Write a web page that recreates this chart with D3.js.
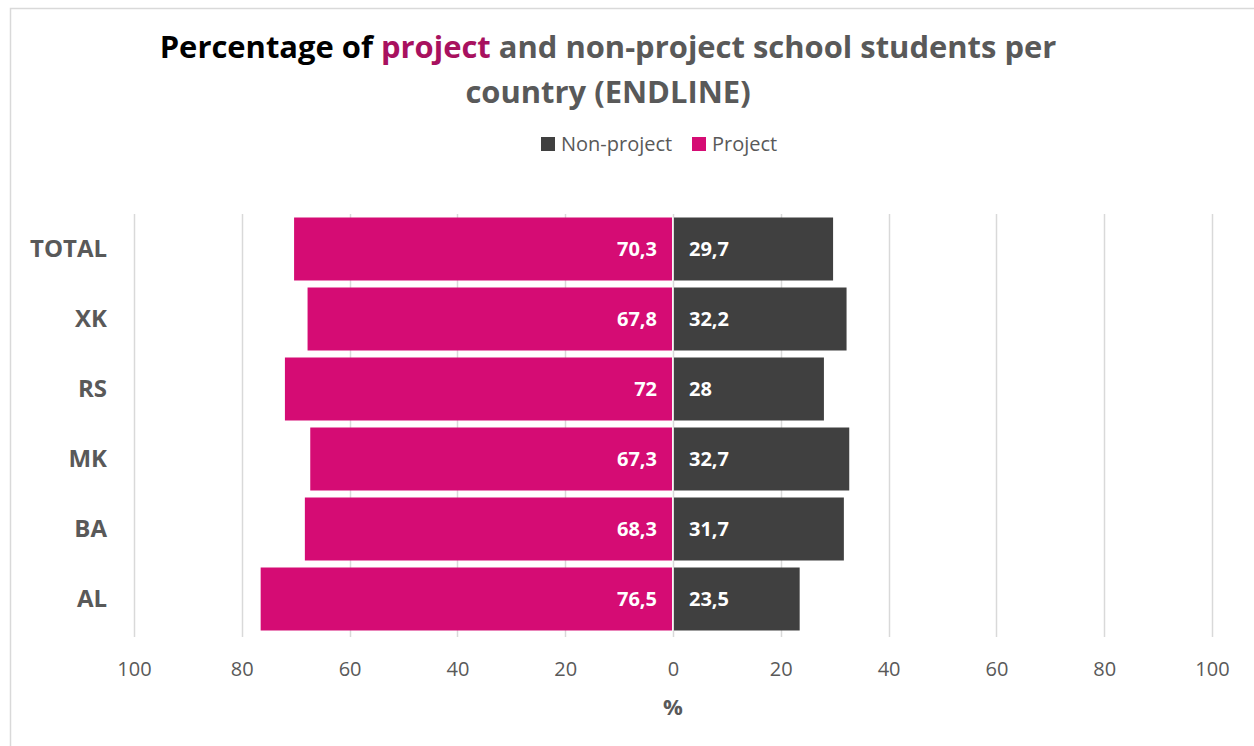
<!DOCTYPE html>
<html>
<head>
<meta charset="utf-8">
<script src="https://cdn.jsdelivr.net/npm/d3@7"></script>
<style>
  body { margin: 0; background: #fff; }
  svg { display: block; font-family: "Open Sans", "DejaVu Sans", sans-serif; }
</style>
</head>
<body>
<div id="chart"></div>
<script>
// data
var categories = ["TOTAL", "XK", "RS", "MK", "BA", "AL"];
var projectValues = [70.3, 67.8, 72, 67.3, 68.3, 76.5];
var nonProjectValues = [29.7, 32.2, 28, 32.7, 31.7, 23.5];
var tickValues = [-100, -80, -60, -40, -20, 0, 20, 40, 60, 80, 100];
var seriesNames = ["Non-project", "Project"];

var width = 1254, height = 746;
var pink = "#D50C74", dark = "#404040", grey = "#595959", gridColor = "#D9D9D9";

var svg = d3.select("#chart").append("svg")
    .attr("width", width)
    .attr("height", height);

// outer chart border
svg.append("rect")
    .attr("x", 10.5).attr("y", 8.5)
    .attr("width", 1300).attr("height", 800)
    .attr("fill", "none")
    .attr("stroke", gridColor)
    .attr("stroke-width", 1.5);

var x = d3.scaleLinear().domain([-100, 100]).range([134, 1212]);
var y = d3.scaleBand().domain(categories).range([214, 634])
    .paddingInner(0.1).paddingOuter(0.05);

// grid lines
svg.append("g").selectAll("line")
    .data(tickValues)
    .join("line")
    .attr("x1", function (d) { return Math.round(x(d)) + 0.5; })
    .attr("x2", function (d) { return Math.round(x(d)) + 0.5; })
    .attr("y1", 214).attr("y2", 637)
    .attr("stroke", gridColor)
    .attr("stroke-width", 1.5);

// axis labels
var xAxis = d3.axisBottom(x)
    .tickValues(tickValues)
    .tickSize(0)
    .tickPadding(0)
    .tickFormat(function (d) { return Math.abs(d); });
var gx = svg.append("g").attr("transform", "translate(0,662)").call(xAxis);
gx.select(".domain").remove();
gx.selectAll("text")
    .attr("fill", grey)
    .attr("font-size", "20px")
    .attr("font-family", "Open Sans");

svg.append("text")
    .attr("x", x(0)).attr("y", 715)
    .attr("text-anchor", "middle")
    .attr("fill", grey)
    .attr("font-size", "22px")
    .attr("font-weight", "bold")
    .text("%");

// bars - project (left), non-project (right)
var rows = categories.map(function (c, i) {
    return { cat: c, p: projectValues[i], n: nonProjectValues[i] };
});

svg.append("g").selectAll("rect")
    .data(rows)
    .join("rect")
    .attr("x", function (d) { return x(-d.p); })
    .attr("y", function (d) { return y(d.cat); })
    .attr("width", function (d) { return x(0) - x(-d.p) - 1; })
    .attr("height", y.bandwidth())
    .attr("fill", pink);

svg.append("g").selectAll("rect")
    .data(rows)
    .join("rect")
    .attr("x", x(0) + 1)
    .attr("y", function (d) { return y(d.cat); })
    .attr("width", function (d) { return x(d.n) - x(0) - 1; })
    .attr("height", y.bandwidth())
    .attr("fill", dark);

// value labels
var fmt = function (v) { return String(v).replace(".", ","); };
svg.append("g").selectAll("text")
    .data(rows)
    .join("text")
    .attr("x", x(0) - 16)
    .attr("y", function (d) { return y(d.cat) + y.bandwidth() / 2; })
    .attr("dy", "0.35em")
    .attr("text-anchor", "end")
    .attr("fill", "#fff")
    .attr("font-size", "20px")
    .attr("font-weight", "bold")
    .text(function (d) { return fmt(d.p); });

svg.append("g").selectAll("text")
    .data(rows)
    .join("text")
    .attr("x", x(0) + 16)
    .attr("y", function (d) { return y(d.cat) + y.bandwidth() / 2; })
    .attr("dy", "0.35em")
    .attr("text-anchor", "start")
    .attr("fill", "#fff")
    .attr("font-size", "20px")
    .attr("font-weight", "bold")
    .text(function (d) { return fmt(d.n); });

// category labels
svg.append("g").selectAll("text")
    .data(categories)
    .join("text")
    .attr("x", 107)
    .attr("y", function (d) { return y(d) + y.bandwidth() / 2; })
    .attr("dy", "0.35em")
    .attr("text-anchor", "end")
    .attr("fill", grey)
    .attr("font-size", "24px")
    .attr("font-weight", "bold")
    .text(function (d) { return d; });

// title
var title = svg.append("g")
    .attr("font-weight", "bold")
    .attr("font-family", "'Liberation Sans Narrow', 'Open Sans', sans-serif")
    .attr("text-anchor", "middle");
var t1 = title.append("text").attr("x", 608).attr("y", 58).attr("font-size", "32px");
t1.append("tspan").attr("fill", "#000").text("Percentage of ");
t1.append("tspan").attr("fill", "#A8115F").text("project");
t1.append("tspan").attr("fill", grey).text(" and non-project school students per");
var t2 = title.append("text").attr("x", 608).attr("y", 103).attr("font-size", "32px")
    .attr("fill", grey).text("country (ENDLINE)");
// fit line 1 to the reference width
var len = t1.node().getComputedTextLength();
var fs = 32 * 897 / len;
t1.attr("font-size", fs + "px");
t2.attr("font-size", fs + "px");

// legend
var legend = svg.append("g").attr("font-size", "20px").attr("fill", grey);
var legX = [541, 692];
var legColors = [dark, pink];
seriesNames.forEach(function (name, i) {
    legend.append("rect")
        .attr("x", legX[i]).attr("y", 137)
        .attr("width", 14).attr("height", 14)
        .attr("fill", legColors[i]);
    legend.append("text")
        .attr("x", legX[i] + 20).attr("y", 144)
        .attr("dy", "0.35em")
        .text(name);
});
</script>
</body>
</html>
